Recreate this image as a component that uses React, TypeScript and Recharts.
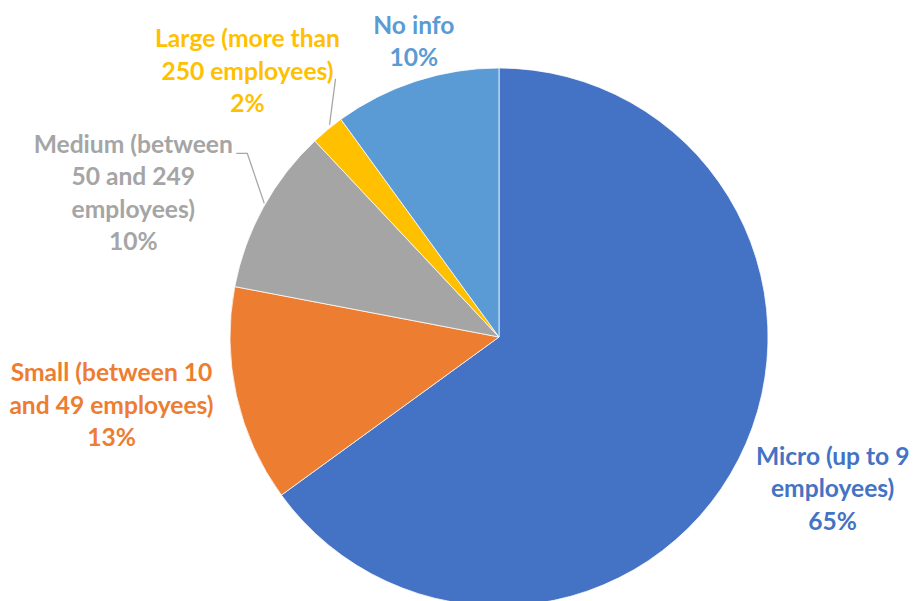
import React from "react";
import { Cell, Pie, PieChart } from "recharts";

// company size shares, read clockwise from 12 o'clock
const categories = [
  "Micro (up to 9 employees)",
  "Small (between 10 and 49 employees)",
  "Medium (between 50 and 249 employees)",
  "Large (more than 250 employees)",
  "No info",
];
const shares = [65, 13, 10, 2, 10];
const labelLines = [
  ["Micro (up to 9", "employees)", "65%"],
  ["Small (between 10", "and 49 employees)", "13%"],
  ["Medium (between", "50 and 249", "employees)", "10%"],
  ["Large (more than", "250 employees)", "2%"],
  ["No info", "10%"],
];

const colors = ["#4472C4", "#ED7D31", "#A5A5A5", "#FFC000", "#5B9BD5"];

// label block centre, offset from the slice's outer edge point
const labelLayout = [
  { dx: 94, dy: 28, leader: null },
  { dx: -125, dy: 8, leader: null },
  { dx: -130, dy: -16, leader: [[1, -4], [-16, -54], [-27, -54]] },
  { dx: -80, dy: -60, leader: [[2, -5], [8, -51]] },
  { dx: -2, dy: -41, leader: null },
];

const data = categories.map((name, i) => ({ name, value: shares[i] }));

const LINE_H = 32.5;
const RAD = Math.PI / 180;

function renderLabel(props: any) {
  const { cx, cy, midAngle, outerRadius, index } = props;
  const ex = cx + outerRadius * Math.cos(-midAngle * RAD);
  const ey = cy + outerRadius * Math.sin(-midAngle * RAD);
  const lay = labelLayout[index];
  const lines = labelLines[index];
  const x = ex + lay.dx;
  const y0 = ey + lay.dy - ((lines.length - 1) * LINE_H) / 2;
  return (
    <g key={`lbl-${index}`}>
      {lay.leader && (
        <polyline
          points={lay.leader.map(([px, py]) => `${ex + px},${ey + py}`).join(" ")}
          fill="none"
          stroke="#A6A6A6"
          strokeWidth={1.3}
        />
      )}
      <text
        x={x}
        y={y0}
        textAnchor="middle"
        dominantBaseline="central"
        fill={colors[index]}
        fontFamily="Lato, 'Open Sans', sans-serif"
        fontWeight={700}
        fontSize={24.6}
      >
        {lines.map((t, j) => (
          <tspan key={j} x={x} y={y0 + j * LINE_H}>
            {t}
          </tspan>
        ))}
      </text>
    </g>
  );
}

export default function App() {
  return (
    <div style={{ position: "absolute", left: 0, top: 0, width: 914, height: 601, background: "#fff" }}>
      <style>{`.recharts-pie-sectors { filter: drop-shadow(1px 2px 3px rgba(0,0,0,0.3)); }`}</style>
      <PieChart width={914} height={601} margin={{ top: 0, right: 0, bottom: 0, left: 0 }}>
        <Pie
          data={data}
          dataKey="value"
          nameKey="name"
          cx={499}
          cy={337}
          outerRadius={269}
          startAngle={90}
          endAngle={-270}
          stroke="#fff"
          strokeWidth={0.75}
          label={renderLabel}
          labelLine={false}
          isAnimationActive={false}
        >
          {data.map((d, i) => (
            <Cell key={d.name} fill={colors[i]} />
          ))}
        </Pie>
      </PieChart>
    </div>
  );
}
